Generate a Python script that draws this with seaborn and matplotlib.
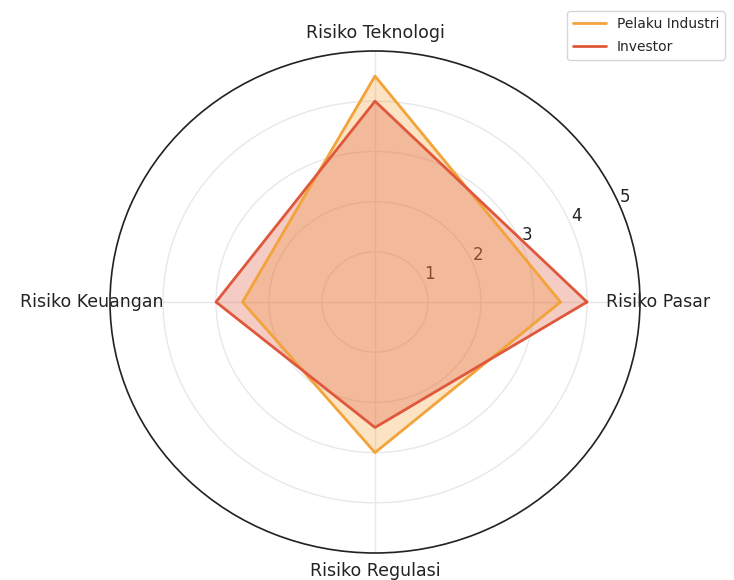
import numpy as np
import matplotlib
matplotlib.use("Agg")
import matplotlib.pyplot as plt
import seaborn as sns

categories = ['Risiko Pasar', 'Risiko Teknologi', 'Risiko Keuangan', 'Risiko Regulasi']
pelaku_industri = [3.5, 4.5, 2.5, 3.0]
investor = [4.0, 4.0, 3.0, 2.5]
series_names = ['Pelaku Industri', 'Investor']
r_ticks = [1, 2, 3, 4, 5]

sns.set_style("whitegrid")
plt.rcParams['font.family'] = ['DejaVu Sans']

colors = ['#F2A33A', '#E0583C']

angles = np.linspace(0, 2 * np.pi, len(categories), endpoint=False).tolist()
angles_closed = angles + angles[:1]

fig = plt.figure(figsize=(7.34, 5.8), dpi=100)
# reference is a little wider than tall, so let the polar axes stretch
rx, ry = 265, 251
ax = fig.add_axes([(375 - rx) / 734, (580 - 302 - ry) / 580, 2 * rx / 734, 2 * ry / 580],
                  projection='polar')
ax.set_aspect('auto')

for name, vals, c in zip(series_names, [pelaku_industri, investor], colors):
    v = vals + vals[:1]
    ax.plot(angles_closed, v, color=c, linewidth=2, label=name)
    ax.fill(angles_closed, v, color=c, alpha=0.3)

ax.set_ylim(0, 5)
ax.set_yticks(r_ticks)
ax.set_yticklabels([str(t) for t in r_ticks], fontsize=12, color='#222222')
ax.set_rlabel_position(22.5)
ax.set_xticks(angles)
ax.set_xticklabels([])
for a, lab in zip(angles, categories):
    ax.text(a, 5.35, lab, ha='center', va='center', fontsize=12.5,
            color='#222222', clip_on=False)
ax.grid(color='#e8e8e8', linewidth=1)
ax.spines['polar'].set_color('#222222')
ax.spines['polar'].set_linewidth(1.2)

# whole legend kept inside the figure (the reference crops it at the right edge)
fig.legend(loc='upper right', bbox_to_anchor=(1 - 2 / 734, 1 - 4 / 580),
           fontsize=10, frameon=True, handlelength=2.4, labelspacing=0.7)

fig.savefig('out.png', dpi=100)
